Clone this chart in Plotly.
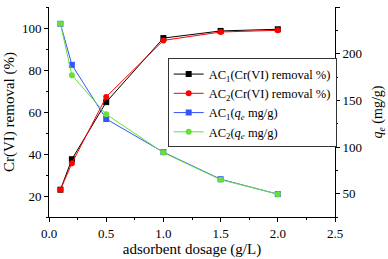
import plotly.graph_objects as go

dosage = [0.1, 0.2, 0.5, 1.0, 1.5, 2.0]
ac1_removal = [23.0, 37.5, 64.7, 95.2, 98.6, 99.4]
ac2_removal = [23.0, 35.6, 67.2, 94.1, 98.1, 98.9]
ac1_qe = [232, 188, 130, 94.5, 65.5, 49.5]
ac2_qe = [232, 177, 135, 94, 65, 49.5]

names = [
    "AC<sub>1</sub>(Cr(VI) removal %)",
    "AC<sub>2</sub>(Cr(VI) removal %)",
    "AC<sub>1</sub>(<i>q<sub>e</sub></i> mg/g)",
    "AC<sub>2</sub>(<i>q<sub>e</sub></i> mg/g)",
]
colors = ["#000000", "#ff0000", "#3355ff", "#66e033"]
symbols = ["square", "circle", "square", "circle"]
series = [ac1_removal, ac2_removal, ac1_qe, ac2_qe]
axes = ["y", "y", "y2", "y2"]

FAM = "Liberation Serif, Times New Roman, serif"

fig = go.Figure()
for n, c, s, v, a in zip(names, colors, symbols, series, axes):
    fig.add_trace(go.Scatter(
        x=dosage, y=v, name=n, yaxis=a, mode="lines+markers",
        line=dict(color=c, width=1),
        marker=dict(color=c, symbol=s, size=6),
    ))

axis_common = dict(
    showgrid=False, zeroline=False, showline=True, linecolor="#000", linewidth=1,
    ticks="outside", ticklen=4, tickcolor="#000",
    tickfont=dict(family=FAM, size=13, color="#000"), automargin=False,
)
fig.update_layout(
    width=388, height=259,
    margin=dict(l=49, r=53, t=7, b=42, autoexpand=False),
    paper_bgcolor="white", plot_bgcolor="white",
    font=dict(family=FAM, size=13, color="#000"),
    showlegend=True,
    legend=dict(
        x=0.415, y=0.755, xanchor="left", yanchor="top",
        bordercolor="#333", borderwidth=1, bgcolor="white",
        font=dict(family=FAM, size=12.5, color="#000"),
        tracegroupgap=0, itemwidth=30,
    ),
    xaxis=dict(
        range=[0, 2.5], dtick=0.5, tickformat=".1f",
        minor=dict(dtick=0.25, ticks="outside", ticklen=2, tickcolor="#000"),
        title=dict(text="adsorbent dosage (g/L)", font=dict(family=FAM, size=15, color="#000"), standoff=3),
        **axis_common,
    ),
    yaxis=dict(
        range=[10, 110], dtick=20,
        minor=dict(dtick=10, ticks="outside", ticklen=2, tickcolor="#000"),
        title=dict(text="Cr(VI) removal (%)", font=dict(family=FAM, size=15, color="#000"), standoff=3),
        **axis_common,
    ),
    yaxis2=dict(
        range=[25, 250], dtick=50, overlaying="y", side="right",
        minor=dict(dtick=25, ticks="outside", ticklen=2, tickcolor="#000"),
        title=dict(text="<i>q<sub>e</sub></i> (mg/g)", font=dict(family=FAM, size=14, color="#000"), standoff=11),
        **axis_common,
    ),
)

fig.write_html(
    "out.html",
    config={"displayModeBar": False},
    post_script="document.body.style.margin='0';document.body.style.overflow='hidden';",
)
